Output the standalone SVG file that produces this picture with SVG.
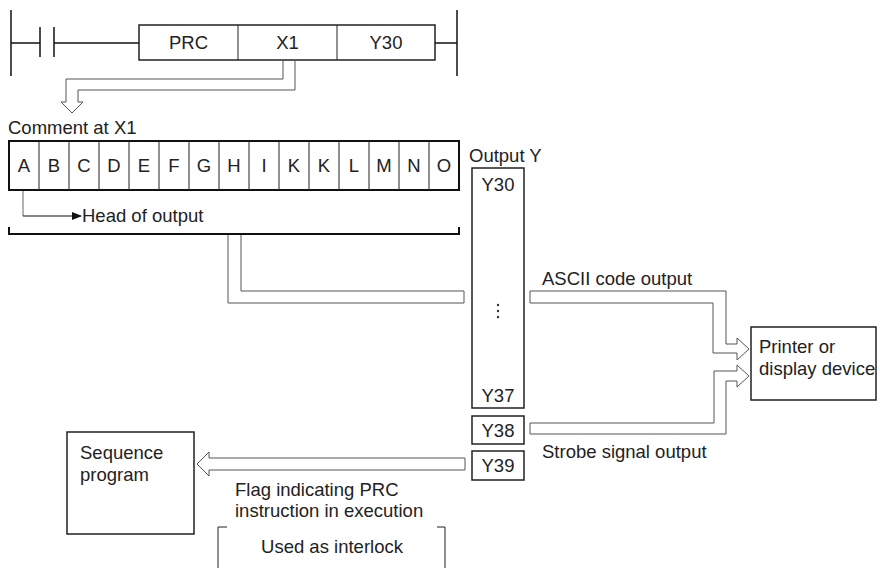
<svg xmlns="http://www.w3.org/2000/svg" width="880" height="568" viewBox="0 0 880 568">
<style>
text{font-family:"Liberation Sans",Arial,sans-serif;font-size:18.5px;fill:#222}
.c{text-anchor:middle}
.box{fill:#fff;stroke:#222;stroke-width:1.5}
.thick{fill:#fff;stroke:#111;stroke-width:2}
.hollow{fill:#fff;stroke:#555;stroke-width:1}
.ln{fill:none;stroke:#111;stroke-width:1.5}
.thin{fill:none;stroke:#222;stroke-width:1}
</style>
<defs>
<marker id="ah" markerWidth="10" markerHeight="8" refX="9" refY="4" orient="auto" markerUnits="userSpaceOnUse">
<path d="M0,0 L10,4 L0,8 Z" fill="#111"/>
</marker>
</defs>
<g id="ladder">
<line class="ln" x1="11" y1="10" x2="11" y2="76" stroke-width="2"/>
<line class="ln" x1="11" y1="43" x2="40" y2="43"/>
<line class="ln" x1="40" y1="27" x2="40" y2="57" stroke-width="2"/>
<line class="ln" x1="54" y1="27" x2="54" y2="57" stroke-width="2"/>
<line class="ln" x1="54" y1="43" x2="139" y2="43"/>
<rect class="box" x="139" y="25" width="296" height="35"/>
<line class="thin" x1="238" y1="25" x2="238" y2="60"/>
<line class="thin" x1="337" y1="25" x2="337" y2="60"/>
<line class="ln" x1="435" y1="43" x2="457" y2="43"/>
<line class="ln" x1="457" y1="10" x2="457" y2="76" stroke-width="2"/>
<text class="c" x="188.5" y="49">PRC</text>
<text class="c" x="287.5" y="49">X1</text>
<text class="c" x="386" y="49">Y30</text>
</g>
<g id="connectors">
<polygon class="hollow" points="283,60.5 283,79 66,79 66,102 61,102 72,113 83,102 78,102 78,90 295,90 295,60.5"/>
<polygon class="hollow" points="228,234 228,303 464,303 464,291 241,291 241,234"/>
<polygon class="hollow" points="530,291 726,291 726,344 737,344 737,338 749,349 737,360 737,353 713,353 713,303 530,303"/>
<polygon class="hollow" points="530,423 714,423 714,371 737,371 737,365 749,376 737,387 737,381 726,381 726,434 530,434"/>
<polygon class="hollow" points="465,458 209,458 209,452 197,464 209,476 209,470 465,470"/>
<polyline fill="none" stroke="#666" stroke-width="1" points="23,190 23,216"/>
<line x1="23" y1="216" x2="81" y2="216" stroke="#111" stroke-width="1" marker-end="url(#ah)"/>
</g>
<g id="comment">
<text x="8" y="134">Comment at X1</text>
<rect class="thick" x="9" y="141" width="450" height="49"/>
<g class="thin" stroke-width="1.5">
<line x1="39" y1="141" x2="39" y2="190"/><line x1="69" y1="141" x2="69" y2="190"/>
<line x1="99" y1="141" x2="99" y2="190"/><line x1="129" y1="141" x2="129" y2="190"/>
<line x1="159" y1="141" x2="159" y2="190"/><line x1="189" y1="141" x2="189" y2="190"/>
<line x1="219" y1="141" x2="219" y2="190"/><line x1="249" y1="141" x2="249" y2="190"/>
<line x1="279" y1="141" x2="279" y2="190"/><line x1="309" y1="141" x2="309" y2="190"/>
<line x1="339" y1="141" x2="339" y2="190"/><line x1="369" y1="141" x2="369" y2="190"/>
<line x1="399" y1="141" x2="399" y2="190"/><line x1="429" y1="141" x2="429" y2="190"/>
</g>
<text class="c" x="24" y="172">A</text><text class="c" x="54" y="172">B</text>
<text class="c" x="84" y="172">C</text><text class="c" x="114" y="172">D</text>
<text class="c" x="144" y="172">E</text><text class="c" x="174" y="172">F</text>
<text class="c" x="204" y="172">G</text><text class="c" x="234" y="172">H</text>
<text class="c" x="264" y="172">I</text><text class="c" x="294" y="172">K</text>
<text class="c" x="324" y="172">K</text><text class="c" x="354" y="172">L</text>
<text class="c" x="384" y="172">M</text><text class="c" x="414" y="172">N</text>
<text class="c" x="444" y="172">O</text>
<text x="82" y="222">Head of output</text>
<polyline fill="none" stroke="#111" stroke-width="2" points="9,227 9,234 459,234 459,227"/>
</g>
<g id="output-y">
<text x="469" y="162">Output Y</text>
<rect class="box" x="472" y="168" width="52" height="240"/>
<text class="c" x="498" y="191">Y30</text>
<circle cx="498" cy="305" r="1.2" fill="#333"/>
<circle cx="498" cy="311" r="1.2" fill="#333"/>
<circle cx="498" cy="317" r="1.2" fill="#333"/>
<text class="c" x="498" y="402">Y37</text>
</g>
<g id="y38">
<rect class="box" x="472" y="416" width="52" height="28"/>
<text class="c" x="498" y="437">Y38</text>
</g>
<g id="y39">
<rect class="box" x="472" y="451" width="52" height="29"/>
<text class="c" x="498" y="472">Y39</text>
</g>
<g id="printer">
<rect class="box" x="751" y="327" width="125" height="73"/>
<text x="759" y="353">Printer or</text>
<text x="759" y="375">display device</text>
</g>
<g id="sequence">
<rect class="box" x="67" y="432" width="127" height="102"/>
<text x="80" y="459">Sequence</text>
<text x="80" y="481">program</text>
</g>
<g id="labels">
<text x="542" y="285">ASCII code output</text>
<text x="542" y="458">Strobe signal output</text>
<text x="235" y="496">Flag indicating PRC</text>
<text x="235" y="517">instruction in execution</text>
</g>
<g id="interlock">
<polyline class="thin" points="227,527 218,527 218,568"/>
<polyline class="thin" points="437,527 445,527 445,568"/>
<text class="c" x="332" y="553">Used as interlock</text>
</g>
</svg>
